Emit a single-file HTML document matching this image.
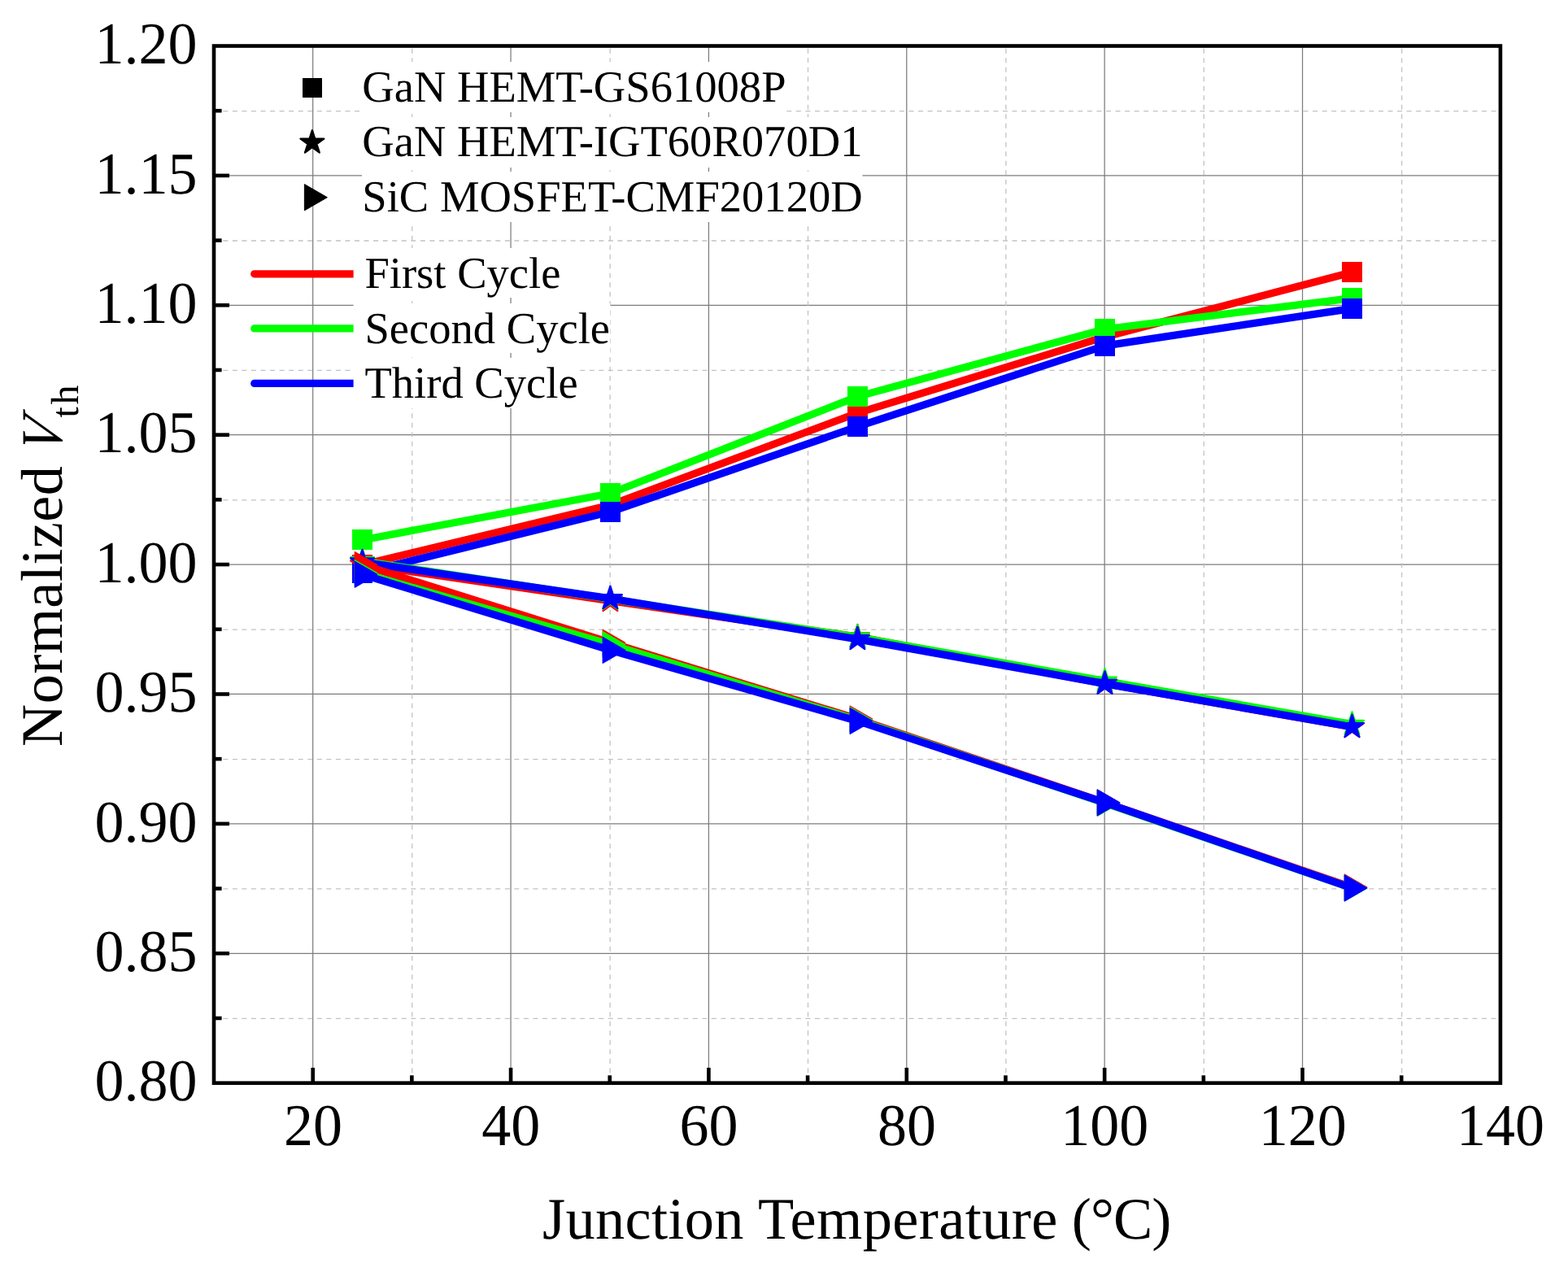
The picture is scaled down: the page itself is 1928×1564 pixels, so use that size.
<!DOCTYPE html>
<html lang="en"><head><meta charset="utf-8"><title>Normalized Vth vs Junction Temperature</title>
<style>html,body{margin:0;padding:0;background:#fff;}body{width:1928px;height:1564px;overflow:hidden;}svg{display:block;}text{font-family:"Liberation Serif",serif;fill:#000;text-rendering:geometricPrecision;}</style></head><body>
<svg width="1928" height="1564" viewBox="0 0 1928 1564">
<rect width="1928" height="1564" fill="#fff"/>
<g id="grid" fill="none">
<line x1="274.3" y1="1252.35" x2="1844.9" y2="1252.35" stroke="#c2c2c2" stroke-width="1.3" stroke-dasharray="6 5.55"/>
<line x1="263" y1="1172.26" x2="1844.9" y2="1172.26" stroke="#7c7c7c" stroke-width="1.25"/>
<line x1="274.3" y1="1092.96" x2="1844.9" y2="1092.96" stroke="#c2c2c2" stroke-width="1.3" stroke-dasharray="6 5.55"/>
<line x1="263" y1="1012.86" x2="1844.9" y2="1012.86" stroke="#7c7c7c" stroke-width="1.25"/>
<line x1="274.3" y1="933.57" x2="1844.9" y2="933.57" stroke="#c2c2c2" stroke-width="1.3" stroke-dasharray="6 5.55"/>
<line x1="263" y1="853.47" x2="1844.9" y2="853.47" stroke="#7c7c7c" stroke-width="1.25"/>
<line x1="274.3" y1="774.17" x2="1844.9" y2="774.17" stroke="#c2c2c2" stroke-width="1.3" stroke-dasharray="6 5.55"/>
<line x1="263" y1="694.07" x2="1844.9" y2="694.07" stroke="#7c7c7c" stroke-width="1.25"/>
<line x1="274.3" y1="614.78" x2="1844.9" y2="614.78" stroke="#c2c2c2" stroke-width="1.3" stroke-dasharray="6 5.55"/>
<line x1="263" y1="534.68" x2="1844.9" y2="534.68" stroke="#7c7c7c" stroke-width="1.25"/>
<line x1="274.3" y1="455.38" x2="1844.9" y2="455.38" stroke="#c2c2c2" stroke-width="1.3" stroke-dasharray="6 5.55"/>
<line x1="263" y1="375.29" x2="1844.9" y2="375.29" stroke="#7c7c7c" stroke-width="1.25"/>
<line x1="274.3" y1="295.99" x2="1844.9" y2="295.99" stroke="#c2c2c2" stroke-width="1.3" stroke-dasharray="6 5.55"/>
<line x1="263" y1="215.89" x2="1844.9" y2="215.89" stroke="#7c7c7c" stroke-width="1.25"/>
<line x1="274.3" y1="136.6" x2="1844.9" y2="136.6" stroke="#c2c2c2" stroke-width="1.3" stroke-dasharray="6 5.55"/>
<line x1="384.68" y1="56.5" x2="384.68" y2="1331.65" stroke="#7c7c7c" stroke-width="1.25"/>
<line x1="506.77" y1="59.8" x2="506.77" y2="1331.65" stroke="#c2c2c2" stroke-width="1.3" stroke-dasharray="6 5.5"/>
<line x1="628.05" y1="56.5" x2="628.05" y2="1331.65" stroke="#7c7c7c" stroke-width="1.25"/>
<line x1="750.14" y1="59.8" x2="750.14" y2="1331.65" stroke="#c2c2c2" stroke-width="1.3" stroke-dasharray="6 5.5"/>
<line x1="871.42" y1="56.5" x2="871.42" y2="1331.65" stroke="#7c7c7c" stroke-width="1.25"/>
<line x1="993.51" y1="59.8" x2="993.51" y2="1331.65" stroke="#c2c2c2" stroke-width="1.3" stroke-dasharray="6 5.5"/>
<line x1="1114.79" y1="56.5" x2="1114.79" y2="1331.65" stroke="#7c7c7c" stroke-width="1.25"/>
<line x1="1236.88" y1="59.8" x2="1236.88" y2="1331.65" stroke="#c2c2c2" stroke-width="1.3" stroke-dasharray="6 5.5"/>
<line x1="1358.16" y1="56.5" x2="1358.16" y2="1331.65" stroke="#7c7c7c" stroke-width="1.25"/>
<line x1="1480.25" y1="59.8" x2="1480.25" y2="1331.65" stroke="#c2c2c2" stroke-width="1.3" stroke-dasharray="6 5.5"/>
<line x1="1601.53" y1="56.5" x2="1601.53" y2="1331.65" stroke="#7c7c7c" stroke-width="1.25"/>
<line x1="1723.62" y1="59.8" x2="1723.62" y2="1331.65" stroke="#c2c2c2" stroke-width="1.3" stroke-dasharray="6 5.5"/>
</g>
<g id="legend-bg" fill="#fff">
<rect x="445" y="76" width="521.26" height="62"/>
<rect x="445" y="144" width="615.22" height="62"/>
<rect x="445" y="211" width="615.45" height="62"/>
</g>
<g id="legend-lines" fill="none" stroke-width="9.2" stroke-linecap="round">
<line x1="312.7" y1="336.8" x2="440" y2="336.8" stroke="#ff0000"/>
<line x1="312.7" y1="403.9" x2="440" y2="403.9" stroke="#00ff00"/>
<line x1="312.7" y1="471.4" x2="440" y2="471.4" stroke="#0000ff"/>
</g>
<g id="legend-bg2" fill="#fff">
<rect x="434.6" y="305" width="254.95" height="61"/>
<rect x="434.6" y="373" width="315.55" height="61"/>
<rect x="434.6" y="440" width="276.11" height="62"/>
</g>
<g id="axes" stroke="#000" stroke-width="4.6" fill="none">
<rect x="263" y="56.5" width="1581.9" height="1275.15"/>
<line x1="263" y1="1251.95" x2="272.6" y2="1251.95"/>
<line x1="263" y1="1172.26" x2="282" y2="1172.26"/>
<line x1="263" y1="1092.56" x2="272.6" y2="1092.56"/>
<line x1="263" y1="1012.86" x2="282" y2="1012.86"/>
<line x1="263" y1="933.17" x2="272.6" y2="933.17"/>
<line x1="263" y1="853.47" x2="282" y2="853.47"/>
<line x1="263" y1="773.77" x2="272.6" y2="773.77"/>
<line x1="263" y1="694.07" x2="282" y2="694.07"/>
<line x1="263" y1="614.38" x2="272.6" y2="614.38"/>
<line x1="263" y1="534.68" x2="282" y2="534.68"/>
<line x1="263" y1="454.98" x2="272.6" y2="454.98"/>
<line x1="263" y1="375.29" x2="282" y2="375.29"/>
<line x1="263" y1="295.59" x2="272.6" y2="295.59"/>
<line x1="263" y1="215.89" x2="282" y2="215.89"/>
<line x1="263" y1="136.2" x2="272.6" y2="136.2"/>
<line x1="384.68" y1="1331.65" x2="384.68" y2="1312.85"/>
<line x1="506.37" y1="1331.65" x2="506.37" y2="1322.25"/>
<line x1="628.05" y1="1331.65" x2="628.05" y2="1312.85"/>
<line x1="749.74" y1="1331.65" x2="749.74" y2="1322.25"/>
<line x1="871.42" y1="1331.65" x2="871.42" y2="1312.85"/>
<line x1="993.11" y1="1331.65" x2="993.11" y2="1322.25"/>
<line x1="1114.79" y1="1331.65" x2="1114.79" y2="1312.85"/>
<line x1="1236.48" y1="1331.65" x2="1236.48" y2="1322.25"/>
<line x1="1358.16" y1="1331.65" x2="1358.16" y2="1312.85"/>
<line x1="1479.85" y1="1331.65" x2="1479.85" y2="1322.25"/>
<line x1="1601.53" y1="1331.65" x2="1601.53" y2="1312.85"/>
<line x1="1723.22" y1="1331.65" x2="1723.22" y2="1322.25"/>
</g>
<g id="ylabels" font-size="72" text-anchor="end">
<text transform="translate(242.5 1353.4) scale(1 1.014)">0.80</text>
<text transform="translate(242.5 1194.01) scale(1 1.014)">0.85</text>
<text transform="translate(242.5 1034.61) scale(1 1.014)">0.90</text>
<text transform="translate(242.5 875.22) scale(1 1.014)">0.95</text>
<text transform="translate(242.5 715.82) scale(1 1.014)">1.00</text>
<text transform="translate(242.5 556.43) scale(1 1.014)">1.05</text>
<text transform="translate(242.5 397.04) scale(1 1.014)">1.10</text>
<text transform="translate(242.5 237.64) scale(1 1.014)">1.15</text>
<text transform="translate(242.5 78.25) scale(1 1.014)">1.20</text>
</g>
<g id="xlabels" font-size="72" text-anchor="middle">
<text transform="translate(384.88 1408.0) scale(1 1.014)">20</text>
<text transform="translate(628.25 1408.0) scale(1 1.014)">40</text>
<text transform="translate(871.62 1408.0) scale(1 1.014)">60</text>
<text transform="translate(1114.99 1408.0) scale(1 1.014)">80</text>
<text transform="translate(1358.36 1408.0) scale(1 1.014)">100</text>
<text transform="translate(1601.73 1408.0) scale(1 1.014)">120</text>
<text transform="translate(1845.1 1408.0) scale(1 1.014)">140</text>
</g>
<text id="xtitle" font-size="72.4" y="1522.6"><tspan x="667" textLength="247.5" lengthAdjust="spacing">Junction</tspan> <tspan x="932" textLength="368.3" lengthAdjust="spacing">Temperature</tspan> <tspan x="1317.7" textLength="122.7" lengthAdjust="spacing">(°C)</tspan></text>
<g id="ytitle" transform="translate(76.4 0) rotate(-90)" font-size="72.4">
<text x="-918" y="0" textLength="345" lengthAdjust="spacing">Normalized</text>
<text transform="translate(-559.5 0) skewX(-12) scale(0.91 1)" font-style="italic">V</text>
<text x="-513.5" y="19.3" font-size="48" textLength="40" lengthAdjust="spacing">th</text>
</g>
<g id="legend1" font-size="54.6">
<text x="445.3" y="124.9">GaN HEMT-GS61008P</text>
<text x="445.3" y="192.4">GaN HEMT-IGT60R070D1</text>
<text x="445.3" y="260">SiC MOSFET-CMF20120D</text>
<rect x="371.6" y="95.5" width="24.8" height="24.8" fill="#000" shape-rendering="crispEdges"/>
<polygon points="383.9,160.2 387.31,170.7 398.36,170.7 389.42,177.19 392.83,187.7 383.9,181.21 374.97,187.7 378.38,177.19 369.44,170.7 380.49,170.7" fill="#000" stroke="#000" stroke-width="2.2" stroke-linejoin="round"/>
<polygon points="374.38,226.55 374.38,258.85 402.35,242.7" fill="#000" stroke="#000" stroke-width="1" stroke-linejoin="round"/>
</g>
<g id="legend2" font-size="54.6">
<text x="448.4" y="353.5">First Cycle</text>
<text x="448.4" y="421.5">Second Cycle</text>
<text x="448.4" y="489.1">Third Cycle</text>
</g>
<g id="series">
<polyline points="445.5,694.5 750.4,620.9 1054.4,507.8 1358.5,414.2 1662.5,334.8" fill="none" stroke="#ff0000" stroke-width="9.2" stroke-linejoin="round" stroke-linecap="round"/>
<rect x="433" y="682" width="25" height="25" fill="#ff0000" shape-rendering="crispEdges"/>
<rect x="737.9" y="608.4" width="25" height="25" fill="#ff0000" shape-rendering="crispEdges"/>
<rect x="1041.9" y="495.3" width="25" height="25" fill="#ff0000" shape-rendering="crispEdges"/>
<rect x="1346" y="401.7" width="25" height="25" fill="#ff0000" shape-rendering="crispEdges"/>
<rect x="1650" y="322.3" width="25" height="25" fill="#ff0000" shape-rendering="crispEdges"/>
<polyline points="445.5,663.9 750.4,606.7 1054.4,487.6 1358.5,404.7 1662.5,366.6" fill="none" stroke="#00ff00" stroke-width="9.2" stroke-linejoin="round" stroke-linecap="round"/>
<rect x="433" y="651.4" width="25" height="25" fill="#00ff00" shape-rendering="crispEdges"/>
<rect x="737.9" y="594.2" width="25" height="25" fill="#00ff00" shape-rendering="crispEdges"/>
<rect x="1041.9" y="475.1" width="25" height="25" fill="#00ff00" shape-rendering="crispEdges"/>
<rect x="1346" y="392.2" width="25" height="25" fill="#00ff00" shape-rendering="crispEdges"/>
<rect x="1650" y="354.1" width="25" height="25" fill="#00ff00" shape-rendering="crispEdges"/>
<polyline points="445.5,704.4 750.4,629.4 1054.4,524.5 1358.5,425.1 1662.5,379.4" fill="none" stroke="#0000ff" stroke-width="9.2" stroke-linejoin="round" stroke-linecap="round"/>
<rect x="433" y="691.9" width="25" height="25" fill="#0000ff" shape-rendering="crispEdges"/>
<rect x="737.9" y="616.9" width="25" height="25" fill="#0000ff" shape-rendering="crispEdges"/>
<rect x="1041.9" y="512" width="25" height="25" fill="#0000ff" shape-rendering="crispEdges"/>
<rect x="1346" y="412.6" width="25" height="25" fill="#0000ff" shape-rendering="crispEdges"/>
<rect x="1650" y="366.9" width="25" height="25" fill="#0000ff" shape-rendering="crispEdges"/>
<polyline points="445.5,694 750.4,738.7 1054.4,783.1 1358.5,840.4 1662.5,893.8" fill="none" stroke="#ff0000" stroke-width="9.2" stroke-linejoin="round" stroke-linecap="round"/>
<polygon points="445.5,678.8 448.91,689.3 459.96,689.3 451.02,695.79 454.43,706.3 445.5,699.81 436.57,706.3 439.98,695.79 431.04,689.3 442.09,689.3" fill="#ff0000" stroke="#ff0000" stroke-width="2.2" stroke-linejoin="round"/>
<polygon points="750.4,723.5 753.81,734 764.86,734 755.92,740.49 759.33,751 750.4,744.51 741.47,751 744.88,740.49 735.94,734 746.99,734" fill="#ff0000" stroke="#ff0000" stroke-width="2.2" stroke-linejoin="round"/>
<polygon points="1054.4,767.9 1057.81,778.4 1068.86,778.4 1059.92,784.89 1063.33,795.4 1054.4,788.91 1045.47,795.4 1048.88,784.89 1039.94,778.4 1050.99,778.4" fill="#ff0000" stroke="#ff0000" stroke-width="2.2" stroke-linejoin="round"/>
<polygon points="1358.5,825.2 1361.91,835.7 1372.96,835.7 1364.02,842.19 1367.43,852.7 1358.5,846.21 1349.57,852.7 1352.98,842.19 1344.04,835.7 1355.09,835.7" fill="#ff0000" stroke="#ff0000" stroke-width="2.2" stroke-linejoin="round"/>
<polygon points="1662.5,878.6 1665.91,889.1 1676.96,889.1 1668.02,895.59 1671.43,906.1 1662.5,899.61 1653.57,906.1 1656.98,895.59 1648.04,889.1 1659.09,889.1" fill="#ff0000" stroke="#ff0000" stroke-width="2.2" stroke-linejoin="round"/>
<polyline points="445.5,689.9 750.4,736.5 1054.4,783.4 1358.5,837.4 1662.5,890.6" fill="none" stroke="#00ff00" stroke-width="9.2" stroke-linejoin="round" stroke-linecap="round"/>
<polygon points="445.5,674.7 448.91,685.2 459.96,685.2 451.02,691.69 454.43,702.2 445.5,695.71 436.57,702.2 439.98,691.69 431.04,685.2 442.09,685.2" fill="#00ff00" stroke="#00ff00" stroke-width="2.2" stroke-linejoin="round"/>
<polygon points="750.4,721.3 753.81,731.8 764.86,731.8 755.92,738.29 759.33,748.8 750.4,742.31 741.47,748.8 744.88,738.29 735.94,731.8 746.99,731.8" fill="#00ff00" stroke="#00ff00" stroke-width="2.2" stroke-linejoin="round"/>
<polygon points="1054.4,768.2 1057.81,778.7 1068.86,778.7 1059.92,785.19 1063.33,795.7 1054.4,789.21 1045.47,795.7 1048.88,785.19 1039.94,778.7 1050.99,778.7" fill="#00ff00" stroke="#00ff00" stroke-width="2.2" stroke-linejoin="round"/>
<polygon points="1358.5,822.2 1361.91,832.7 1372.96,832.7 1364.02,839.19 1367.43,849.7 1358.5,843.21 1349.57,849.7 1352.98,839.19 1344.04,832.7 1355.09,832.7" fill="#00ff00" stroke="#00ff00" stroke-width="2.2" stroke-linejoin="round"/>
<polygon points="1662.5,875.4 1665.91,885.9 1676.96,885.9 1668.02,892.39 1671.43,902.9 1662.5,896.41 1653.57,902.9 1656.98,892.39 1648.04,885.9 1659.09,885.9" fill="#00ff00" stroke="#00ff00" stroke-width="2.2" stroke-linejoin="round"/>
<polyline points="445.5,691.1 750.4,735.9 1054.4,785.9 1358.5,840.6 1662.5,893.8" fill="none" stroke="#0000ff" stroke-width="9.2" stroke-linejoin="round" stroke-linecap="round"/>
<polygon points="445.5,675.9 448.91,686.4 459.96,686.4 451.02,692.89 454.43,703.4 445.5,696.91 436.57,703.4 439.98,692.89 431.04,686.4 442.09,686.4" fill="#0000ff" stroke="#0000ff" stroke-width="2.2" stroke-linejoin="round"/>
<polygon points="750.4,720.7 753.81,731.2 764.86,731.2 755.92,737.69 759.33,748.2 750.4,741.71 741.47,748.2 744.88,737.69 735.94,731.2 746.99,731.2" fill="#0000ff" stroke="#0000ff" stroke-width="2.2" stroke-linejoin="round"/>
<polygon points="1054.4,770.7 1057.81,781.2 1068.86,781.2 1059.92,787.69 1063.33,798.2 1054.4,791.71 1045.47,798.2 1048.88,787.69 1039.94,781.2 1050.99,781.2" fill="#0000ff" stroke="#0000ff" stroke-width="2.2" stroke-linejoin="round"/>
<polygon points="1358.5,825.4 1361.91,835.9 1372.96,835.9 1364.02,842.39 1367.43,852.9 1358.5,846.41 1349.57,852.9 1352.98,842.39 1344.04,835.9 1355.09,835.9" fill="#0000ff" stroke="#0000ff" stroke-width="2.2" stroke-linejoin="round"/>
<polygon points="1662.5,878.6 1665.91,889.1 1676.96,889.1 1668.02,895.59 1671.43,906.1 1662.5,899.61 1653.57,906.1 1656.98,895.59 1648.04,889.1 1659.09,889.1" fill="#0000ff" stroke="#0000ff" stroke-width="2.2" stroke-linejoin="round"/>
<polyline points="445.5,694.5 750.4,790.2 1054.4,884 1358.5,986.9 1662.5,1091" fill="none" stroke="#ff0000" stroke-width="9.2" stroke-linejoin="round" stroke-linecap="round"/>
<polygon points="436.18,678.35 436.18,710.65 464.15,694.5" fill="#ff0000" stroke="#ff0000" stroke-width="1" stroke-linejoin="round"/>
<polygon points="741.08,774.05 741.08,806.35 769.05,790.2" fill="#ff0000" stroke="#ff0000" stroke-width="1" stroke-linejoin="round"/>
<polygon points="1045.08,867.85 1045.08,900.15 1073.05,884" fill="#ff0000" stroke="#ff0000" stroke-width="1" stroke-linejoin="round"/>
<polygon points="1349.18,970.75 1349.18,1003.05 1377.15,986.9" fill="#ff0000" stroke="#ff0000" stroke-width="1" stroke-linejoin="round"/>
<polygon points="1653.18,1074.85 1653.18,1107.15 1681.15,1091" fill="#ff0000" stroke="#ff0000" stroke-width="1" stroke-linejoin="round"/>
<polyline points="445.5,704.6 750.4,792.5 1054.4,885.3 1358.5,987.5 1662.5,1092" fill="none" stroke="#00ff00" stroke-width="9.2" stroke-linejoin="round" stroke-linecap="round"/>
<polygon points="436.18,688.45 436.18,720.75 464.15,704.6" fill="#00ff00" stroke="#00ff00" stroke-width="1" stroke-linejoin="round"/>
<polygon points="741.08,776.35 741.08,808.65 769.05,792.5" fill="#00ff00" stroke="#00ff00" stroke-width="1" stroke-linejoin="round"/>
<polygon points="1045.08,869.15 1045.08,901.45 1073.05,885.3" fill="#00ff00" stroke="#00ff00" stroke-width="1" stroke-linejoin="round"/>
<polygon points="1349.18,971.35 1349.18,1003.65 1377.15,987.5" fill="#00ff00" stroke="#00ff00" stroke-width="1" stroke-linejoin="round"/>
<polygon points="1653.18,1075.85 1653.18,1108.15 1681.15,1092" fill="#00ff00" stroke="#00ff00" stroke-width="1" stroke-linejoin="round"/>
<polyline points="445.5,706.3 750.4,799.4 1054.4,886.5 1358.5,986.9 1662.5,1092" fill="none" stroke="#0000ff" stroke-width="9.2" stroke-linejoin="round" stroke-linecap="round"/>
<polygon points="436.18,690.15 436.18,722.45 464.15,706.3" fill="#0000ff" stroke="#0000ff" stroke-width="1" stroke-linejoin="round"/>
<polygon points="741.08,783.25 741.08,815.55 769.05,799.4" fill="#0000ff" stroke="#0000ff" stroke-width="1" stroke-linejoin="round"/>
<polygon points="1045.08,870.35 1045.08,902.65 1073.05,886.5" fill="#0000ff" stroke="#0000ff" stroke-width="1" stroke-linejoin="round"/>
<polygon points="1349.18,970.75 1349.18,1003.05 1377.15,986.9" fill="#0000ff" stroke="#0000ff" stroke-width="1" stroke-linejoin="round"/>
<polygon points="1653.18,1075.85 1653.18,1108.15 1681.15,1092" fill="#0000ff" stroke="#0000ff" stroke-width="1" stroke-linejoin="round"/>
</g>
</svg></body></html>
